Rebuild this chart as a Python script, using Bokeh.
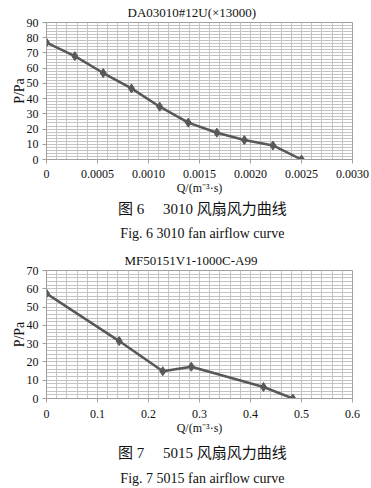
from bokeh.plotting import figure
from bokeh.layouts import column
from bokeh.models import FixedTicker, Range1d, Title
from bokeh.core.properties import value
from bokeh.embed import file_html
from bokeh.resources import INLINE

# ---- data: chart 1 (3010 fan) ----
q1 = [0, 0.000278, 0.000556, 0.000833, 0.00111, 0.00139, 0.00167, 0.00194, 0.00222, 0.0025]
p1 = [76.8, 67.9, 56.8, 46.7, 34.7, 24.2, 17.6, 12.8, 9.2, 0]
x1_ticks = [0, 0.0005, 0.0010, 0.0015, 0.0020, 0.0025, 0.0030]
x1_labels = ["0", "0.0005", "0.0010", "0.0015", "0.0020", "0.0025", "0.0030"]
y1_ticks = [0, 10, 20, 30, 40, 50, 60, 70, 80, 90]
title1 = "DA03010#12U(\u00d713000)"
cap1_cn = "图 6\u3000 3010 风扇风力曲线"
cap1_en = "Fig. 6 3010 fan airflow curve"

# ---- data: chart 2 (5015 fan) ----
q2 = [0, 0.1425, 0.228, 0.284, 0.4255, 0.483]
p2 = [57.4, 31.4, 14.9, 17.4, 6.3, 0]
x2_ticks = [0, 0.1, 0.2, 0.3, 0.4, 0.5, 0.6]
x2_labels = ["0", "0.1", "0.2", "0.3", "0.4", "0.5", "0.6"]
y2_ticks = [0, 10, 20, 30, 40, 50, 60, 70]
title2 = "MF50151V1-1000C-A99"
cap2_cn = "图 7\u3000 5015 风扇风力曲线"
cap2_en = "Fig. 7 5015 fan airflow curve"

xlabel = "Q/(m\u207b\u00b3\u00b7s)"
ylabel = "P/Pa"

W = 371
SERIF = "Liberation Serif"
CAPFONT = "'Liberation Serif', 'Noto Sans CJK SC'"
GRID = "#c4c4c4"
LINE = "#585858"
TXT = "#111111"


def strip(height, items):
    """A plain text band; items = (x_px, y_px_from_bottom, text, font, size)."""
    s = figure(width=W, height=height, output_backend="svg", toolbar_location=None,
               x_range=Range1d(0, W), y_range=Range1d(0, height),
               x_axis_type=None, y_axis_type=None,
               min_border=0, min_border_left=0, min_border_right=0,
               min_border_top=0, min_border_bottom=0)
    s.outline_line_color = None
    s.grid.visible = False
    for (x, y, t, font, size) in items:
        s.text(x=[x], y=[y], text=[t], text_font=value(font), text_font_size=size,
               text_color=TXT, text_align="center", text_baseline="middle")
    return s


def chart(q, p, xt, xl, yt, xstep_minor, ystep_minor, title, t_offset, t_standoff,
          height, b_top, b_bottom, b_right, xl_standoff, xa_standoff):
    f = figure(width=W, height=height, output_backend="svg", toolbar_location=None,
               x_range=Range1d(xt[0], xt[-1]), y_range=Range1d(yt[0], yt[-1]),
               min_border_left=46, min_border_right=b_right,
               min_border_top=b_top, min_border_bottom=b_bottom)
    f.title = Title(text=title, align="left", offset=t_offset, standoff=t_standoff,
                    text_font=SERIF, text_font_size="13px", text_font_style="normal",
                    text_color=TXT)
    nx = int(round((xt[-1] - xt[0]) / xstep_minor))
    ny = int(round((yt[-1] - yt[0]) / ystep_minor))
    f.xaxis.ticker = FixedTicker(ticks=xt, minor_ticks=[xt[0] + i * xstep_minor for i in range(nx + 1)])
    f.yaxis.ticker = FixedTicker(ticks=yt, minor_ticks=[yt[0] + i * ystep_minor for i in range(ny + 1)])
    f.xaxis.major_label_overrides = {t: l for t, l in zip(xt, xl)}
    for ax in (f.xaxis, f.yaxis):
        ax.axis_line_color = "#a0a0a0"
        ax.major_tick_line_color = "#a0a0a0"
        ax.major_tick_out = 4
        ax.major_tick_in = 0
        ax.minor_tick_line_color = None
        ax.major_label_text_font = SERIF
        ax.major_label_text_color = TXT
        ax.major_label_text_font_size = "12px"
        ax.axis_label_text_font = SERIF
        ax.axis_label_text_font_style = "normal"
        ax.axis_label_text_color = TXT
    f.xaxis.axis_label_text_font_size = "12px"
    f.yaxis.axis_label_text_font_size = "14px"
    f.xaxis.major_label_standoff = xl_standoff
    f.yaxis.major_label_standoff = 4
    f.xaxis.axis_label_standoff = xa_standoff
    f.yaxis.axis_label_standoff = -3
    f.xaxis.axis_label = xlabel
    f.yaxis.axis_label = ylabel
    for g in (f.xgrid, f.ygrid):
        g.grid_line_color = GRID
        g.minor_grid_line_color = GRID
        g.grid_line_width = 1
        g.minor_grid_line_width = 1
    f.outline_line_color = "#a0a0a0"
    f.background_fill_color = "white"
    f.border_fill_color = "white"

    f.line(q, p, line_color=LINE, line_width=2.5)
    f.scatter(q, p, marker="diamond", size=9, fill_color=LINE, line_color=LINE)
    return f


c1 = chart(q1, p1, x1_ticks, x1_labels, y1_ticks, 0.0001, 2, title1, 81, 5,
           height=197, b_top=20, b_bottom=38, b_right=19, xl_standoff=6, xa_standoff=0)
s2 = strip(50, [(189, 39, cap1_cn, CAPFONT, "15px"),
                (189, 14, cap1_en, SERIF, "14px")])
c2 = chart(q2, p2, x2_ticks, x2_labels, y2_ticks, 0.02, 2, title2, 78, 5,
           height=190, b_top=23, b_bottom=37, b_right=13, xl_standoff=7, xa_standoff=0)
s3 = strip(50, [(189, 35, cap2_cn, CAPFONT, "15px"),
                (189, 9, cap2_en, SERIF, "14px")])

layout = column(c1, s2, c2, s3, spacing=0)
open("out.html", "w").write(file_html(layout, INLINE))
